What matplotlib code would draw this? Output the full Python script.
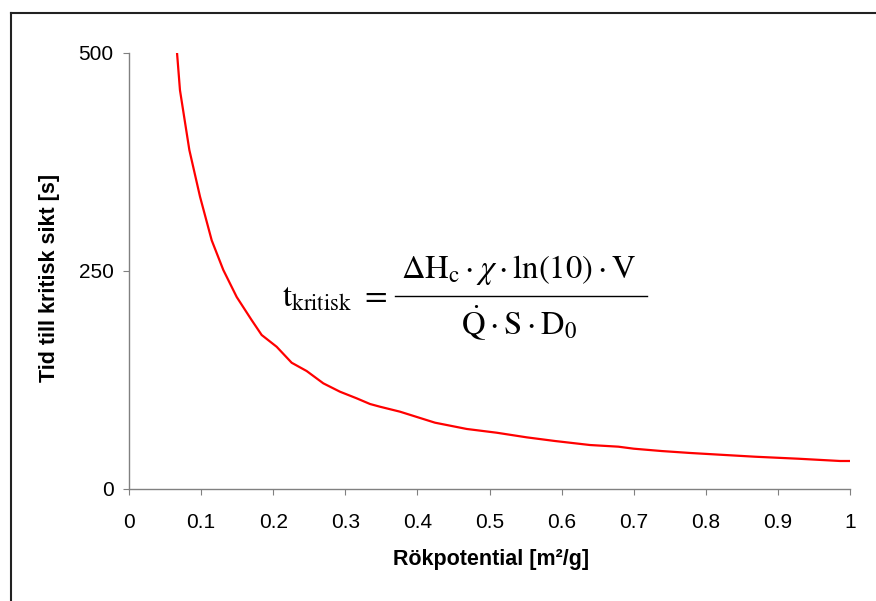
import matplotlib
matplotlib.use("Agg")
import matplotlib.pyplot as plt
from matplotlib.lines import Line2D

# values
rokpotential = [0.0666, 0.0707, 0.0837, 0.0985, 0.1147, 0.1308, 0.1494, 0.170,
                0.184, 0.2048, 0.2256, 0.2464, 0.2695, 0.2926, 0.3158, 0.3343,
                0.3481, 0.3759, 0.4244, 0.4684, 0.510, 0.5516, 0.5908, 0.6394,
                0.6787, 0.700, 0.7388, 0.778, 0.8197, 0.8682, 0.9283, 0.9861, 1.0]
tid = [500, 457, 388.5, 335, 285, 251, 220, 193.7,
       176.5, 163, 144.7, 135.2, 121.1, 111.5, 103.9, 97.4,
       94.3, 88.6, 76.0, 68.8, 64.5, 59.2, 55.0, 50.4,
       48.5, 46.2, 43.5, 41.3, 39.3, 37.0, 34.7, 32.1, 32.1]

x_ticks = [0, 0.1, 0.2, 0.3, 0.4, 0.5, 0.6, 0.7, 0.8, 0.9, 1]
x_ticklabels = ['0', '0.1', '0.2', '0.3', '0.4', '0.5', '0.6', '0.7', '0.8', '0.9', '1']
y_ticks = [0, 250, 500]

plt.rcParams['font.family'] = ['Liberation Sans', 'DejaVu Sans']
plt.rcParams['mathtext.fontset'] = 'stix'

W, H = 876, 601
fig = plt.figure(figsize=(W / 100, H / 100), dpi=100)
ax = fig.add_axes([129 / W, 1 - 489 / H, 721 / W, (489 - 52.7) / H])

ax.plot(rokpotential, tid, color='#ff0000', linewidth=1.6)

ax.set_xlim(0, 1)
ax.set_ylim(0, 500)
ax.set_xticks(x_ticks)
ax.set_xticklabels(x_ticklabels)
ax.set_yticks(y_ticks)
for s in ['top', 'right']:
    ax.spines[s].set_visible(False)
for s in ['left', 'bottom']:
    ax.spines[s].set_color('#808080')
    ax.spines[s].set_linewidth(1.0)
ax.tick_params(axis='both', direction='out', length=4, color='#808080',
               labelsize=15, labelcolor='black')
ax.tick_params(axis='x', pad=13)
ax.tick_params(axis='y', pad=7)

fig.text(491 / W, 1 - 560 / H, 'Rökpotential [m²/g]', ha='center', va='center',
         fontsize=15.5, fontweight='bold')
fig.text(50 / W, 1 - 278 / H, 'Tid till kritisk sikt [s]', ha='center', va='center',
         rotation=90, fontsize=15.5, fontweight='bold')

# formula
fig.text(518 / W, 1 - 270 / H,
         r'$\mathrm{\Delta H}_{\mathrm{c}}\cdot\chi\cdot\mathrm{ln(10)}\cdot\mathrm{V}$',
         ha='center', va='center', fontsize=23.5)
fig.text(519 / W, 1 - 323 / H,
         r'$\dot{\mathrm{Q}}\cdot\mathrm{S}\cdot\mathrm{D}_{0}$',
         ha='center', va='center', fontsize=23.5)
fig.text(334 / W, 1 - 298 / H, r'$\mathrm{t}_{\mathrm{kritisk}}\ =$',
         ha='center', va='center', fontsize=23.5)
fig.add_artist(Line2D([395 / W, 647 / W], [1 - 296 / H, 1 - 296 / H],
                      color='black', linewidth=1.0))

# outer frame
fig.add_artist(Line2D([10.5 / W, 10.5 / W], [0, 1 - 13 / H], color='#222222', linewidth=1.5))
fig.add_artist(Line2D([10.5 / W, 1], [1 - 13 / H, 1 - 13 / H], color='#222222', linewidth=1.5))

fig.savefig('out.png', dpi=100)
